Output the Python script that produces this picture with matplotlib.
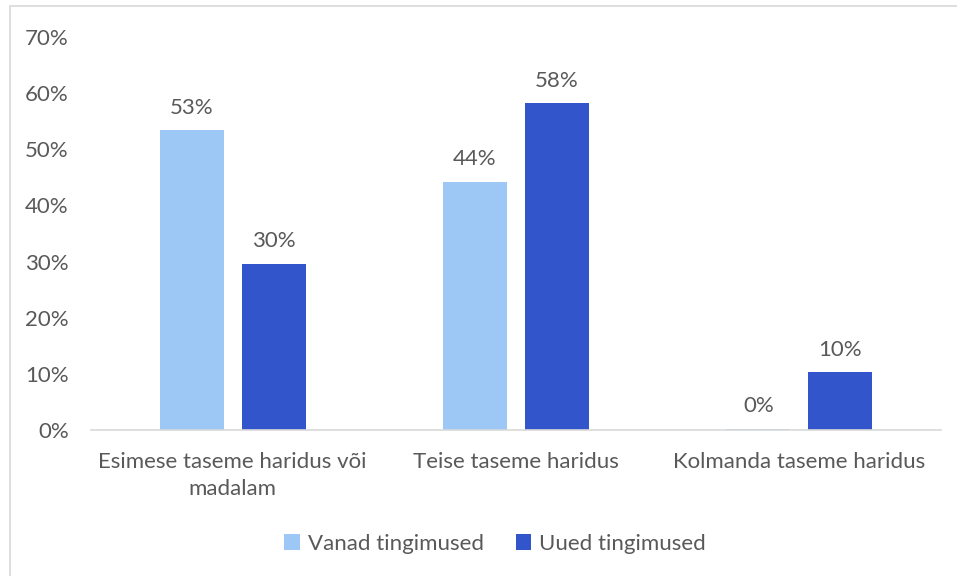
import numpy as np
import matplotlib.pyplot as plt
from matplotlib.patches import Rectangle
from matplotlib.ticker import PercentFormatter

categories = ["Esimese taseme haridus või\nmadalam", "Teise taseme haridus", "Kolmanda taseme haridus"]
series_names = ["Vanad tingimused", "Uued tingimused"]
vanad = [53.4, 44.2, 0.2]
uued = [29.6, 58.2, 10.3]
labels_vanad = ["53%", "44%", "0%"]
labels_uued = ["30%", "58%", "10%"]

plt.rcParams['font.family'] = ['Lato', 'DejaVu Sans']
txt = '#595959'
fs = 16

W, H = 957, 576
fig = plt.figure(figsize=(W / 100, H / 100), dpi=100)
ax = fig.add_axes([91 / W, 1 - 430 / H, 850 / W, (430 - 37) / H])

# outer chart frame (cut off at right and bottom)
fig.patches.append(Rectangle((10 / W, -0.1), 1.2, 1 - 6 / H + 0.1, transform=fig.transFigure,
                             fill=False, edgecolor='#d9d9d9', linewidth=1.2))

x = np.arange(len(categories))
w = 0.226
gap = 0.064
off = (w + gap) / 2
b1 = ax.bar(x - off, vanad, w, color='#9dc8f5', label=series_names[0])
b2 = ax.bar(x + off, uued, w, color='#3355cc', label=series_names[1])

for bars, labs in ((b1, labels_vanad), (b2, labels_uued)):
    for b, lab in zip(bars, labs):
        ax.annotate(lab, (b.get_x() + b.get_width() / 2, b.get_height()),
                    xytext=(0, 9), textcoords='offset points', ha='center', va='bottom',
                    fontsize=fs, color=txt)

ax.set_xlim(-0.5, 2.5)
ax.set_ylim(0, 70)
ax.set_yticks(np.arange(0, 71, 10))
ax.yaxis.set_major_formatter(PercentFormatter(decimals=0))
ax.set_xticks(x)
ax.set_xticklabels(categories, linespacing=1.45)
ax.tick_params(axis='both', length=0, labelsize=fs, labelcolor=txt)
ax.tick_params(axis='y', pad=16)
ax.tick_params(axis='x', pad=16)
for s in ['top', 'right', 'left']:
    ax.spines[s].set_visible(False)
ax.spines['bottom'].set_color('#d9d9d9')
ax.spines['bottom'].set_linewidth(1.2)

fig.legend(handles=[b1, b2], loc='center', bbox_to_anchor=(495 / W, 1 - 544 / H), ncol=2,
           frameon=False, fontsize=fs, labelcolor=txt, handlelength=0.7, handleheight=0.75,
           handletextpad=0.35, columnspacing=1.45)

plt.savefig("out.png", dpi=100)
plt.close()
